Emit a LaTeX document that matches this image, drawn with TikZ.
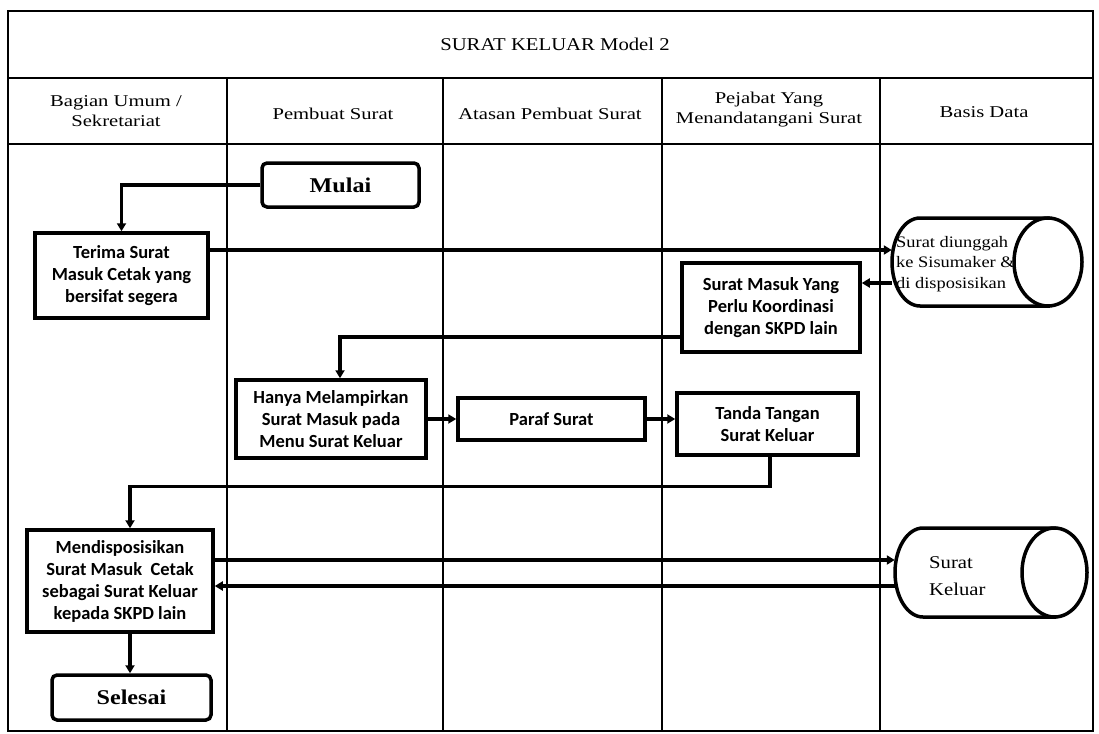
\documentclass[tikz,border=0pt]{standalone}
\usepackage{fontspec}
\setmainfont[FakeStretch=1.15]{Liberation Serif}
\newfontfamily\hdrfont[FakeStretch=1.25]{Liberation Serif}
\newfontfamily\boxfont{Carlito}
\usetikzlibrary{arrows.meta,calc}
\tikzset{
  grid/.style={line width=1.5pt, draw=black},
  procbox/.style={draw=black, line width=3.5pt, fill=white, inner sep=0pt, align=center,
    font=\boxfont\bfseries\fontsize{18.5}{22}\selectfont},
  termbox/.style={draw=black, line width=3.5pt, fill=white, rounded corners=5pt, inner sep=0pt,
    font=\bfseries\fontsize{21}{24}\selectfont},
  hdr/.style={align=center, font=\hdrfont\fontsize{16.5}{20}\selectfont},
  conn/.style={line width=3.2pt, -{Triangle[length=8pt,width=9pt]}},
  cylshape/.style={line width=3.5pt, draw=black},
  cyltext/.style={anchor=west, align=left, inner sep=0pt}
}
\begin{document}
\begin{tikzpicture}[x=1pt,y=-1pt]
\useasboundingbox (0,0) rectangle (1099,733);
\fill[white] (0,0) rectangle (1099,733);

% frame and lanes
\draw[grid] (8,11) rectangle (1093,731);
\draw[grid] (8,78) -- (1093,78);
\draw[grid] (8,144) -- (1093,144);
\foreach \xx in {227,443,662,880} \draw[grid] (\xx,78) -- (\xx,731);

\node[font=\fontsize{18}{22}\selectfont] (title) at (555,44) {SURAT KELUAR Model 2};
\node[hdr] (h1) at (116,111) {Bagian Umum /\\Sekretariat};
\node[hdr] (h2) at (333,114) {Pembuat Surat};
\node[hdr] (h3) at (550,114) {Atasan Pembuat Surat};
\node[hdr] (h4) at (769,110) {Pejabat Yang\\Menandatangani Surat};
\node[hdr] (h5) at (984,112) {Basis Data};

% process nodes
\node[termbox, minimum width=157pt, minimum height=44pt] (mulai) at (340.5,185) {Mulai};
\node[procbox, minimum width=173pt, minimum height=85pt] (terima) at (121.5,275.5) {Terima Surat\\Masuk Cetak yang\\bersifat segera};
\node[procbox, minimum width=178pt, minimum height=89pt] (sm) at (771,307.5) {Surat Masuk Yang\\Perlu Koordinasi\\dengan SKPD lain};
\node[procbox, minimum width=190pt, minimum height=78pt] (hanya) at (331,419) {Hanya Melampirkan\\Surat Masuk pada\\Menu Surat Keluar};
\node[procbox, minimum width=187pt, minimum height=42pt] (paraf) at (551.5,419) {Paraf Surat};
\node[procbox, minimum width=181pt, minimum height=62pt] (tanda) at (767.5,424) {Tanda Tangan\\Surat Keluar};
\node[procbox, minimum width=186pt, minimum height=102pt] (mend) at (120,581) {Mendisposisikan\\Surat Masuk\ \ Cetak\\sebagai Surat Keluar\\kepada SKPD lain};
\node[termbox, minimum width=159pt, minimum height=45pt] (selesai) at (131.5,697.5) {Selesai};

% cylinders (databases)
\node[minimum width=190pt, minimum height=88pt, inner sep=0pt] (cyl1) at (987,262) {};
\draw[cylshape, fill=white] (920,218) arc[start angle=90, end angle=270, x radius=28pt, y radius=44pt] -- (1048,306) -- (1048,218) -- cycle;
\draw[cylshape, fill=white] (1048,262) ellipse[x radius=34pt, y radius=44pt];
\node[cyltext, font=\fontsize{16}{20.5}\selectfont] (cyl1text) at (896,264) {Surat diunggah\\ke Sisumaker \&\\di disposisikan};

\node[minimum width=192pt, minimum height=89pt, inner sep=0pt] (cyl2) at (991,572.5) {};
\draw[cylshape, fill=white] (923,528) arc[start angle=90, end angle=270, x radius=28pt, y radius=44.5pt] -- (1054.5,617) -- (1054.5,528) -- cycle;
\draw[cylshape, fill=white] (1054.5,572.5) ellipse[x radius=32.5pt, y radius=44.5pt];
\node[cyltext, font=\fontsize{18}{27}\selectfont] (cyl2text) at (929,576) {Surat\\Keluar};

% connectors
\coordinate (a1) at ([yshift=25.5pt]terima.east);
\coordinate (a2) at ([yshift=24.5pt]sm.east);
\coordinate (a3) at ([yshift=-29.5pt]sm.west);
\coordinate (a4) at ([yshift=21pt]mend.east);
\coordinate (a5) at ([yshift=-5pt]mend.east);
\coordinate (a6) at ([xshift=10pt]mend.south);

\draw[conn] (mulai.west) -| (terima.north);
\draw[conn] (a1) -- (a1 -| cyl1.west);
\draw[conn] (a2 -| cyl1.west) -- (a2);
\draw[conn] (a3) -| ([xshift=9pt]hanya.north);
\draw[conn] (hanya.east) -- (paraf.west);
\draw[conn] (paraf.east) -- (paraf.east -| tanda.west);
\draw[conn] ([xshift=2.5pt]tanda.south) -- ++(0,30) -| ([xshift=10pt]mend.north);
\draw[conn] (a4) -- (a4 -| cyl2.west);
\draw[conn] (a5 -| cyl2.west) -- (a5);
\draw[conn] (a6) -- (a6 |- selesai.north);
\end{tikzpicture}
\end{document}
